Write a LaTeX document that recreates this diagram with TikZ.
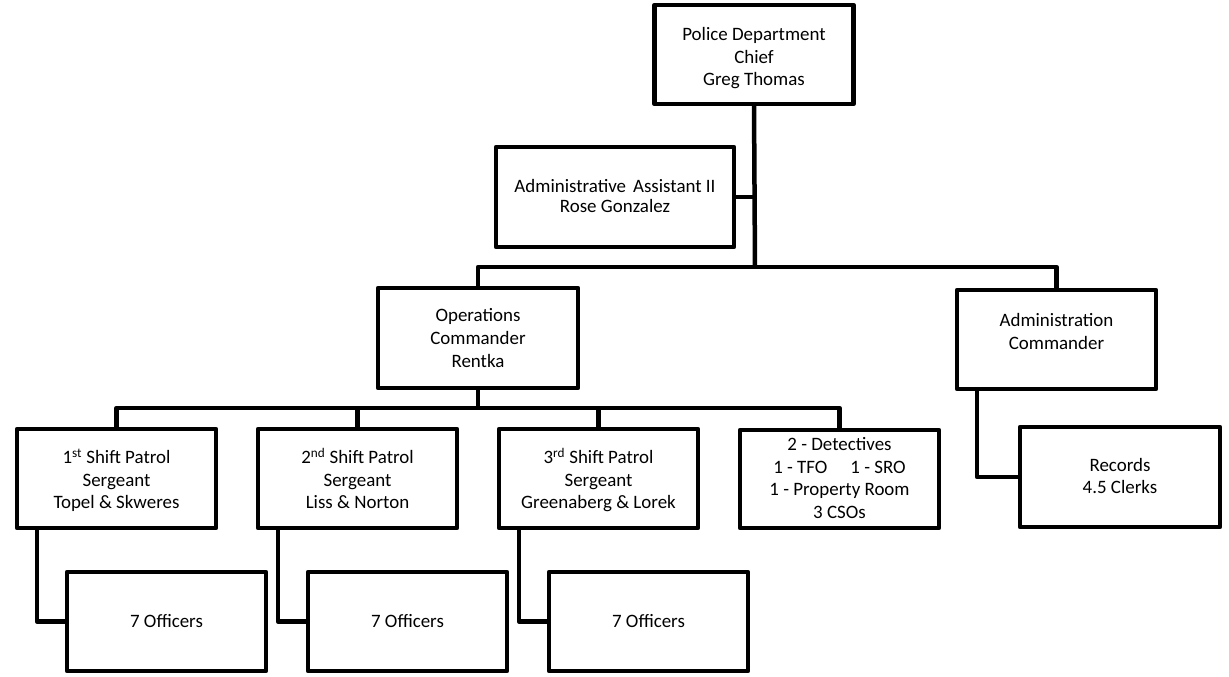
\documentclass[tikz,border=0pt]{standalone}
\usepackage{fontspec}
\setmainfont{Carlito}
\newcommand{\bt}[2]{\raisebox{-#1}[\height][\depth]{\begin{tabular}{@{}c@{}}#2\end{tabular}}}
\begin{document}
\begin{tikzpicture}[x=1bp,y=-1bp,
  box/.style={draw=black, line width=4.5bp, line join=round, fill=white, rectangle,
    minimum width=199bp, minimum height=99bp, inner sep=0pt, outer sep=0pt,
    font=\fontsize{19}{22.7}\selectfont},
  conn/.style={draw=black, line width=4.5bp, line join=round}]
\useasboundingbox (0,0) rectangle (1229,677);
% nodes
\node[box] (chief) at (754,54.5) {\bt{4bp}{Police Department\\Chief\\Greg Thomas}};
\node[box, minimum width=238bp, minimum height=100bp] (asst) at (615,197) {\bt{1bp}{Administrative\hspace{7bp}Assistant II\\[-1.7bp]Rose Gonzalez}};
\node[box, minimum width=200bp, minimum height=100bp] (ops) at (478,338) {\bt{2bp}{Operations\\Commander\\Rentka}};
\node[box] (admin) at (1056.5,339.5) {\bt{5bp}{Administration\\Commander\\\mbox{}}};
\node[box] (s1) at (116.5,478.5) {\bt{3bp}{1\textsuperscript{st} Shift Patrol\\Sergeant\\Topel \& Skweres}};
\node[box] (s2) at (357.5,478.5) {\bt{3bp}{2\textsuperscript{nd} Shift Patrol\\Sergeant\\Liss \& Norton}};
\node[box] (s3) at (598.5,478.5) {\bt{3bp}{3\textsuperscript{rd} Shift Patrol\\Sergeant\\Greenaberg \& Lorek}};
\node[box, minimum height=98bp] (det) at (839.5,479) {\bt{1bp}{2 - Detectives\\1 - TFO\hspace{23bp}1 - SRO\\1 - Property Room\\3 CSOs}};
\node[box] (o1) at (166.5,621.5) {\bt{1bp}{7 Officers}};
\node[box] (o2) at (407.5,621.5) {\bt{1bp}{7 Officers}};
\node[box] (o3) at (648.5,621.5) {\bt{1bp}{7 Officers}};
\node[box, minimum width=200bp, minimum height=100bp] (rec) at (1120,477) {\bt{1bp}{Records\\4.5 Clerks}};
% connectors
\coordinate (bus1) at (755,267);
\coordinate (bus2) at (478,408);
\draw[conn] (chief.south) -- (bus1);
\draw[conn] (ops.north) |- (bus1) -| (admin.north);
\draw[conn] (asst.east) -- (asst.east -| bus1);
\draw[conn] (ops.south) -- (bus2);
\draw[conn] (s1.north) |- (bus2) -| (det.north);
\draw[conn] (s2.north) |- (bus2);
\draw[conn] (s3.north) |- (bus2);
\draw[conn] ([xshift=-79.5bp]s1.south) |- (o1.west);
\draw[conn] ([xshift=-79.5bp]s2.south) |- (o2.west);
\draw[conn] ([xshift=-79.5bp]s3.south) |- (o3.west);
\draw[conn] ([xshift=-79.5bp]admin.south) |- (rec.west);
\end{tikzpicture}
\end{document}
